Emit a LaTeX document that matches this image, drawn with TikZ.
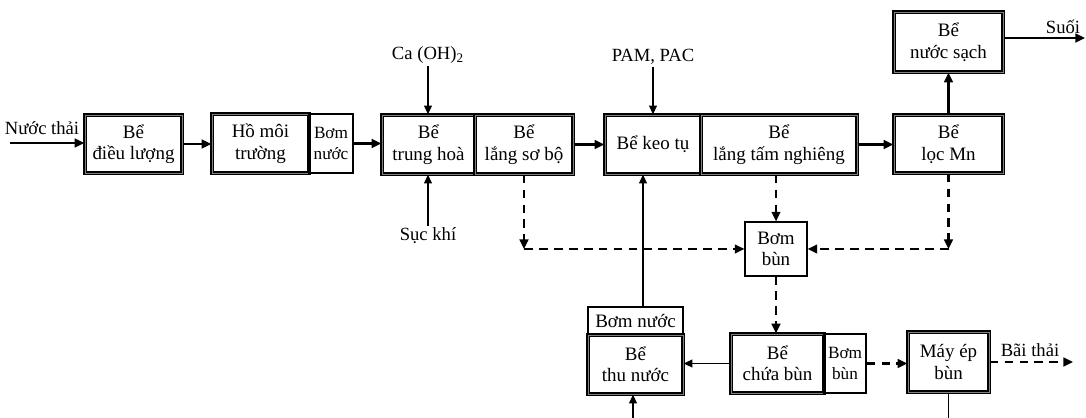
\documentclass[tikz,border=0pt]{standalone}
\usepackage{fontspec}
\setmainfont{Liberation Serif}
\usepackage{tikz}
\usetikzlibrary{positioning, arrows.meta, calc}
\colorlet{rim}{black!50}
\tikzset{
  box/.style     ={inner sep=0pt, align=center, font=\fontsize{10.8}{12.2}\selectfont},
  tank/.style    ={box, draw=black, line width=0.75pt, double=rim,
                   double distance=0.45pt},
  pump/.style    ={box, draw=black, line width=0.65pt},
  pump-s/.style  ={pump, font=\fontsize{9.8}{11.6}\selectfont},
  lbl/.style     ={inner sep=1pt, font=\fontsize{10.6}{12.2}\selectfont},
  flow/.style    ={-{Triangle[length=5.5pt,width=5pt]}, line width=1.2pt},
  feed/.style    ={-{Triangle[length=5pt,width=4.5pt]}, line width=0.65pt},
  sludge/.style  ={-{Triangle[length=5.5pt,width=5pt]}, line width=1.2pt,
                   dash pattern=on 5pt off 3.5pt},
  plain/.style   ={-, line width=0.65pt},
}

\begin{document}
\begin{tikzpicture}[x=0.02cm, y=-0.02cm]
\useasboundingbox (0,0) rectangle (1086,418);

% main line
\node[tank, minimum width=1.94cm, minimum height=1.16cm] (dieu)   at (133.5,144)   {Bể\\ điều lượng};
\node[tank, minimum width=1.94cm, minimum height=1.18cm] (homoi)  at (260.5,143.5) {Hồ môi\\ trường};
\node[pump-s, minimum width=0.88cm, minimum height=1.18cm] (bomA) at (331,143.5)   {Bơm\\ nước};
\node[tank, minimum width=1.86cm, minimum height=1.18cm] (trung)  at (428.5,144.5) {Bể\\ trung hoà};
\node[tank, minimum width=1.96cm, minimum height=1.18cm] (langsb) at (524,144.5)   {Bể\\ lắng sơ bộ};
\node[tank, minimum width=1.92cm, minimum height=1.18cm] (keo)    at (653,144.5)   {Bể keo tụ};
\node[tank, minimum width=3.12cm, minimum height=1.18cm] (tam)    at (779,144.5)   {Bể\\ lắng tấm nghiêng};
\node[tank, minimum width=2.18cm, minimum height=1.16cm] (loc)    at (948.5,144)   {Bể\\ lọc Mn};
\node[tank, minimum width=2.18cm, minimum height=1.20cm] (sach)   at (948.5,42)    {Bể\\ nước sạch};

% sludge line
\node[pump, minimum width=1.24cm, minimum height=1.08cm] (bombun) at (776,249)     {Bơm\\ bùn};
\node[pump, minimum width=1.90cm, minimum height=0.56cm] (bomB)   at (635.5,321)   {Bơm nước};
\node[tank, minimum width=1.90cm, minimum height=1.18cm] (thu)    at (635.5,364.5) {Bể\\ thu nước};
\node[tank, minimum width=1.86cm, minimum height=1.18cm] (chua)   at (777.5,363.5) {Bể\\ chứa bùn};
\node[pump-s, minimum width=0.84cm, minimum height=1.18cm] (bomC) at (845,363.5)   {Bơm\\ bùn};
\node[tank, minimum width=1.62cm, minimum height=1.20cm] (mayep)  at (948.5,362)   {Máy ép\\ bùn};

% labels
\node[lbl] (nuoc) at (42,128)   {Nước thải};
\node[lbl] (caoh) at (428,55)   {Ca (OH)\textsubscript{2}};
\node[lbl] (suc)  at (428,236)  {Sục khí};
\node[lbl] (pam)  at (653,57)   {PAM, PAC};
\node[lbl] (suoi) at (1063,27)  {Suối};
\node[lbl] (bai)  at (1030,350) {Bãi thải};

\coordinate (inStart)  at (10,143);
\coordinate (suoiEnd)  at (1085,38);
\coordinate (baiEnd)   at (1073,362);
\coordinate (cL)       at (524,249);
\coordinate (cR)       at (948.5,249);
\coordinate (keoRet)   at (643,0);
\coordinate (thuIn)    at (633,418);
\coordinate (epOut)    at (948.5,418);

% water
\draw[flow] (inStart) -- (inStart -| dieu.west);
\draw[flow] (dieu.east) -- (dieu.east -| homoi.west);
\draw[flow] (bomA.east) -- (bomA.east -| trung.west);
\draw[flow] (langsb.east) -- (langsb.east -| keo.west);
\draw[flow] (tam.east) -- (tam.east -| loc.west);
\draw[flow] (loc.north) -- (sach.south);
\draw[flow] (sach.east |- suoiEnd) -- (suoiEnd);

% chemicals
\draw[feed] (caoh.south) -- (caoh.south |- trung.north);
\draw[feed] (suc.north) -- (suc.north |- trung.south);
\draw[feed] (pam.south) -- (pam.south |- keo.north);

% sludge
\draw[sludge] (langsb.south) -- (cL);
\draw[sludge] (cL) -- (bombun.west);
\draw[sludge] (loc.south) -- (cR);
\draw[sludge] (cR) -- (bombun.east);
\draw[sludge] (bombun.north |- tam.south) -- (bombun.north);
\draw[sludge] (bombun.south) -- (bombun.south |- chua.north);
\draw[sludge] (bomC.east) -- (bomC.east -| mayep.west);
\draw[sludge] (mayep.east |- baiEnd) -- (baiEnd);

% return water
\draw[feed] (chua.west) -- (chua.west -| thu.east);
\draw[feed] (bomB.north -| keoRet) -- (keo.south -| keoRet);
\draw[feed] (thuIn) -- (thuIn |- thu.south);
\draw[plain] (mayep.south) -- (epOut);

\end{tikzpicture}
\end{document}
